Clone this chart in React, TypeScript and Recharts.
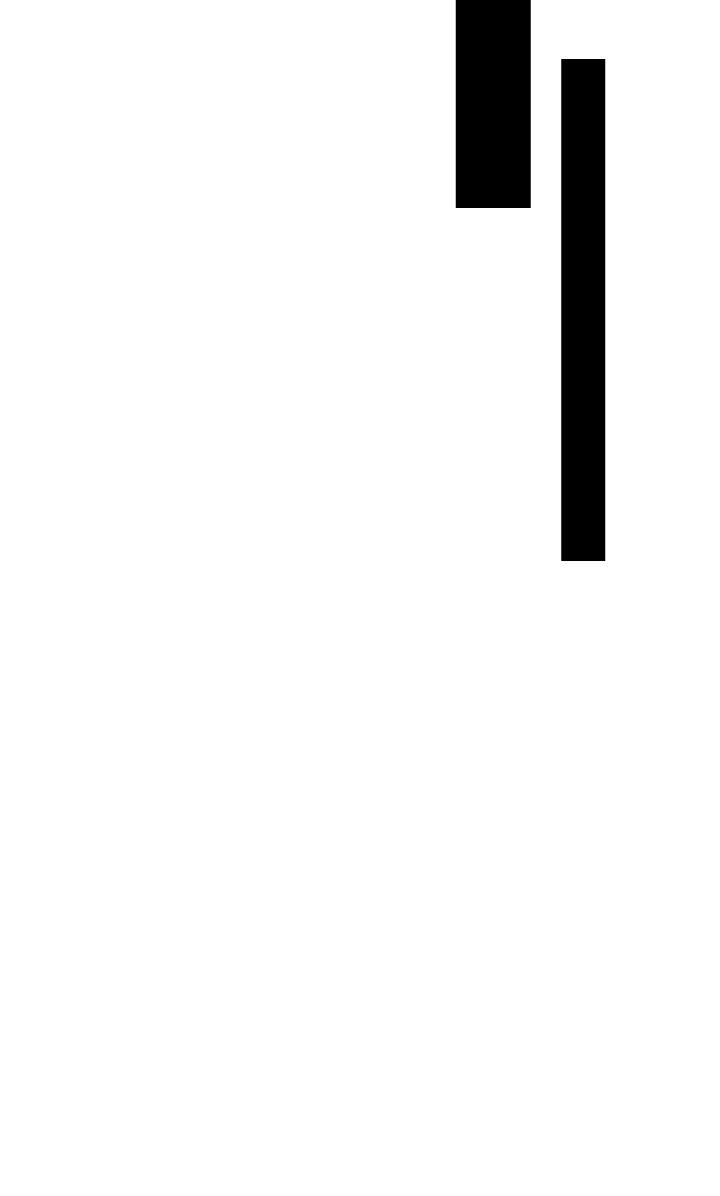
import React from "react";
import {Bar, BarChart, XAxis, YAxis} from "recharts";

// two floating bars (scale 0..1196, top = 0)
const positions = [493.5, 583];
const firstRange: [number, number] = [0, 208];
const secondRange: [number, number] = [59, 561];

const data = [
    { pos: positions[0], first: firstRange },
    { pos: positions[1], second: secondRange },
];

const App: React.FC = () => {
    return (
        <div style={{ position: "absolute", left: 0, top: 0, width: 720, height: 1196, background: "#fff" }}>
            <BarChart width={720} height={1196} data={data} margin={{ top: 0, right: 0, bottom: 0, left: 0 }}>
                <XAxis xAxisId="a" dataKey="pos" type="number" domain={[0, 720]} hide />
                <XAxis xAxisId="b" dataKey="pos" type="number" domain={[0, 720]} hide />
                <YAxis type="number" domain={[0, 1196]} reversed hide />
                <Bar xAxisId="a" dataKey="first" fill="#000" barSize={75} isAnimationActive={false} />
                <Bar xAxisId="b" dataKey="second" fill="#000" barSize={44} isAnimationActive={false} />
            </BarChart>
        </div>
    );
};

export default App;
